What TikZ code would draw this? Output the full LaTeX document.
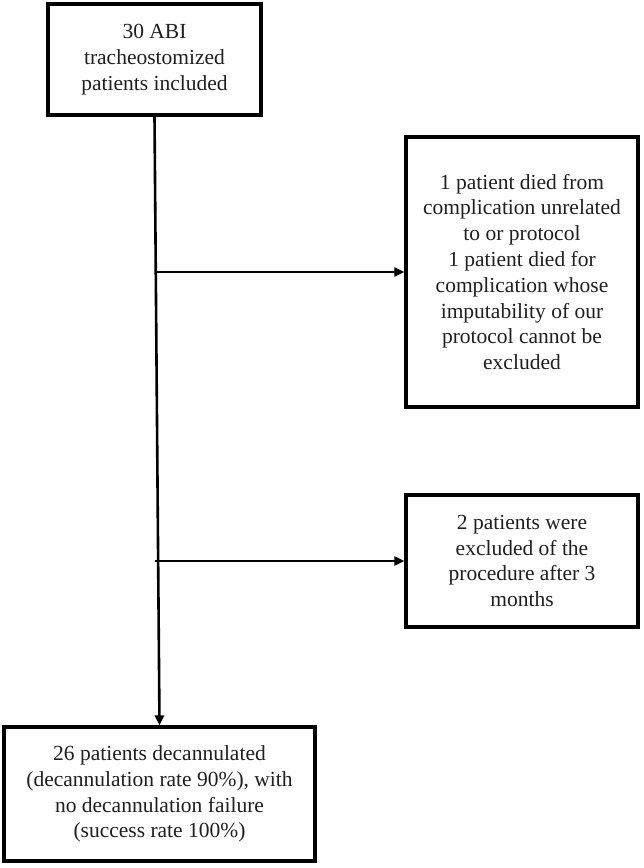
\documentclass[tikz,border=0pt]{standalone}
\usepackage{fontspec}
\setmainfont{Liberation Serif}
\usepackage{tikz}
\usetikzlibrary{positioning, arrows.meta}

\begin{document}
\begin{tikzpicture}[
    x=1pt, y=-1pt,
    >={Triangle[length=10pt, width=9pt]},
    box/.style={draw, line width=3.2pt, rectangle, inner sep=0pt, align=center,
        font=\fontsize{21.5}{25.8}\selectfont, text=black!88},
    arr/.style={->, line width=2.6pt},
]
\useasboundingbox (0,0) rectangle (644,868);

% Start
\node[box, minimum width=213pt, minimum height=111pt] (incl) at (154.5,59.5)
    {30 ABI\\tracheostomized\\patients included};

% Exclusions
\node[box, minimum width=232pt, minimum height=270pt] (died) at (522,272)
    {1 patient died from\\complication unrelated\\to or protocol\\1 patient died for\\complication whose\\imputability of our\\protocol cannot be\\excluded};
\node[box, minimum width=232pt, minimum height=132pt] (excl) at (522,561)
    {2 patients were\\excluded of the\\procedure after 3\\months};

% Outcome
\node[box, minimum width=311pt, minimum height=134pt] (decan) at (159.5,794)
    {26 patients decannulated\\(decannulation rate 90\%), with\\no decannulation failure\\(success rate 100\%)};

% Arrows
\draw[arr] (incl.south) -- (decan.north);
\draw[arr] (incl.south |- died.west) -- (died.west);
\draw[arr] (incl.south |- excl.west) -- (excl.west);

\end{tikzpicture}
\end{document}
